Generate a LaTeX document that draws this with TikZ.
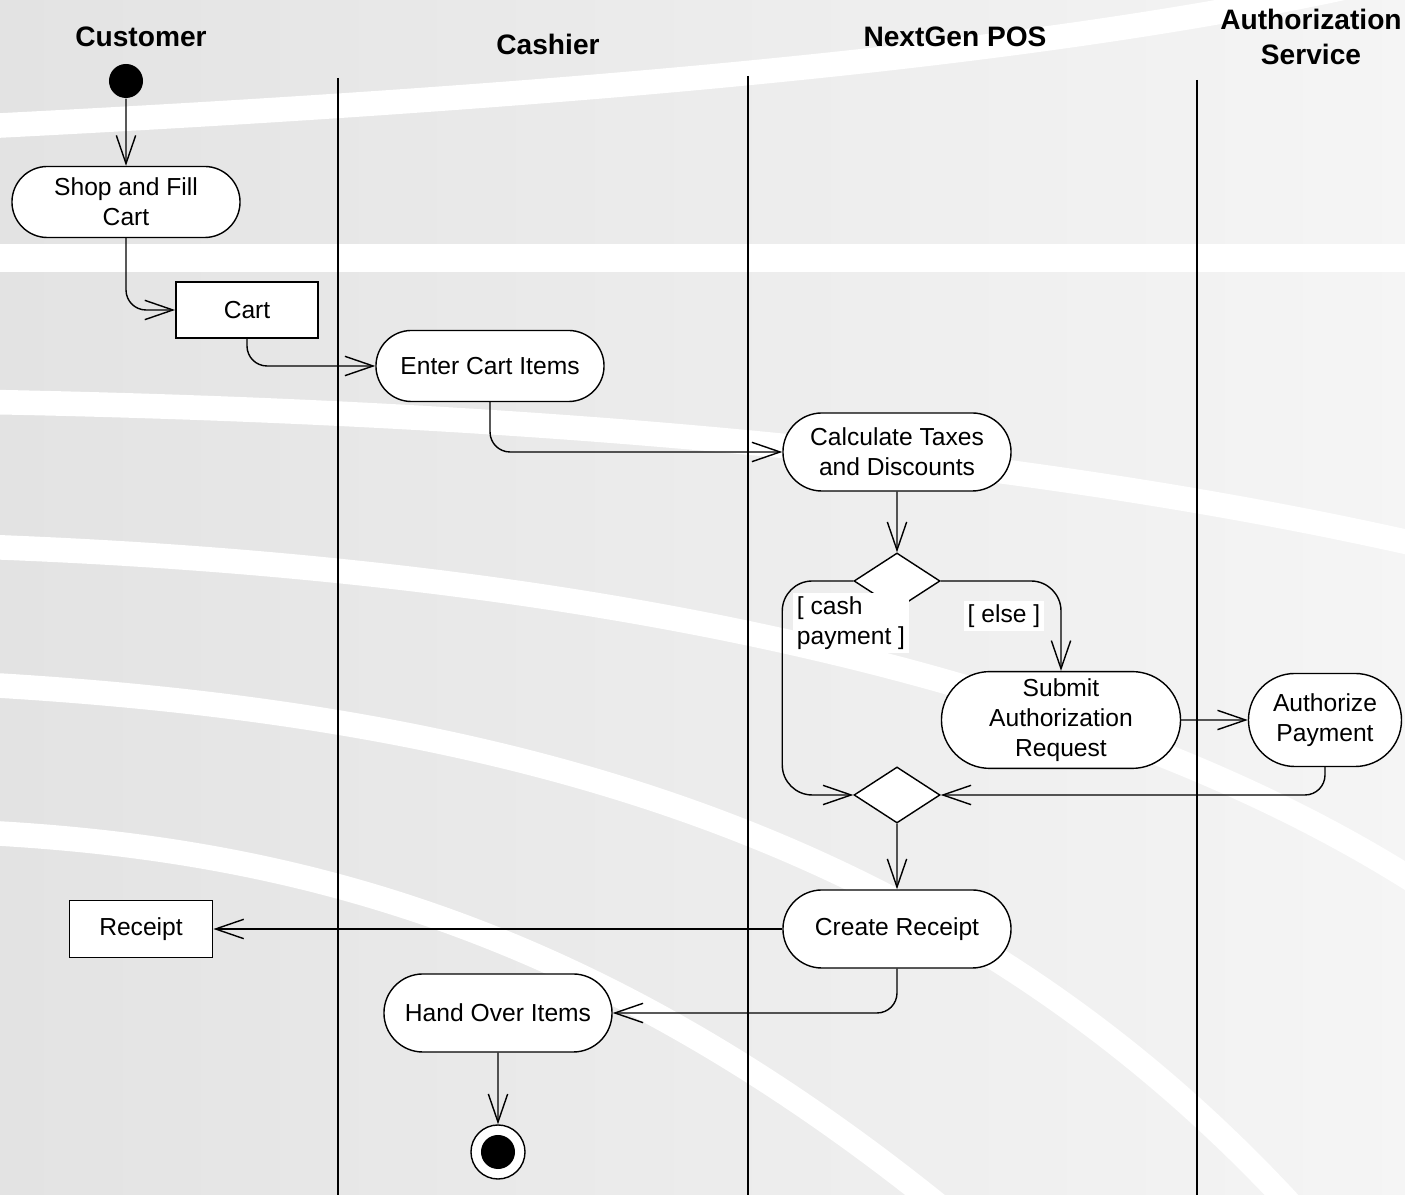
\documentclass[tikz,border=0pt]{standalone}
\usepackage{fontspec}
\setmainfont{Liberation Sans}
\usepackage{tikz}
\usetikzlibrary{arrows.meta,positioning,calc,shapes.geometric,shapes.misc}
\tikzset{act/.style={draw=black,fill=white,rounded rectangle,align=center,inner sep=2pt}}
\tikzset{obj/.style={draw=black,fill=white,rectangle,line width=0.5pt,minimum width=1.42cm,minimum height=0.56cm}}
\tikzset{choice/.style={draw=black,fill=white,diamond,aspect=1.54,inner sep=0pt,minimum width=0.86cm,minimum height=0.56cm}}
\tikzset{head/.style={font=\bfseries\fontsize{8}{9.7}\selectfont,align=center}}
\tikzset{lane/.style={-,line width=0.75pt}}
\tikzset{swoosh/.style={-,draw=white,line width=7pt}}
\tikzset{downover/.style={rounded corners=0.2cm,to path={|- (\tikztotarget)}}}
\tikzset{overdown/.style={rounded corners=0.3cm,to path={-| (\tikztotarget)}}}

\begin{document}
\begin{tikzpicture}[->, >={Straight Barb[length=8pt,width=5.5pt]}, x=0.01cm, y=-0.01cm, line width=0.4pt, font=\fontsize{7}{8.5}\selectfont]
        \useasboundingbox (0,0) rectangle (1405,1195);
        % background
        \fill[-,left color=black!11,right color=black!4] (0,0) rectangle (1405,1195);
        \begin{scope}
        \clip (0,0) rectangle (1405,1195);
        \fill[-,white] (0,244) rectangle (1405,272);
        \draw[swoosh] (-10,126) .. controls (600,95) and (1100,50) .. (1420,-30);
        \draw[swoosh] (-10,402) .. controls (500,412) and (1000,450) .. (1420,545);
        \draw[swoosh] (-10,547) .. controls (600,570) and (1100,680) .. (1420,885);
        \draw[swoosh] (-10,685) .. controls (500,715) and (950,830) .. (1300,1215);
        \draw[swoosh] (-10,833) .. controls (300,850) and (600,930) .. (950,1215);
        \end{scope}
        % swimlanes
        \node[head] (hcust) at (141,37) {Customer};
        \node[head] (hcash) at (548,44) {Cashier};
        \node[head] (hpos) at (955,37) {NextGen POS};
        \node[head] (hauth) at (1311,37) {Authorization\\Service};
        \draw[lane] (338,78) -- (338,1195);
        \draw[lane] (748,76) -- (748,1195);
        \draw[lane] (1197,80) -- (1197,1195);
        % nodes
        \node[circle,fill=black,minimum size=0.34cm,inner sep=0pt] (start) at (126,81) {};
        \node[act,minimum width=2.42cm,minimum height=0.71cm] (shop) at (126,202) {Shop and Fill\\Cart};
        \node[obj] (cart) at (247,310) {Cart};
        \node[act,minimum width=2.42cm,minimum height=0.71cm] (enter) at (490,366) {Enter Cart Items};
        \node[act,minimum width=2.42cm,minimum height=0.78cm] (calc) at (897,452) {Calculate Taxes\\and Discounts};
        \node[choice] (dec) at (897,581) {};
        \node[act,minimum width=2.53cm,minimum height=0.93cm] (submit) at (1061,720) {Submit\\Authorization\\Request};
        \node[act,minimum width=1.67cm,minimum height=0.93cm] (auth) at (1325,720) {Authorize\\Payment};
        \node[choice] (merge) at (897,795) {};
        \node[act,minimum width=2.42cm,minimum height=0.78cm] (create) at (897,929) {Create Receipt};
        \node[obj,minimum width=1.43cm,minimum height=0.57cm] (receipt) at (141,929) {Receipt};
        \node[act,minimum width=2.42cm,minimum height=0.78cm] (hand) at (498,1013) {Hand Over Items};
        \node[circle,draw=black,fill=white,minimum size=0.54cm,inner sep=0pt] (stop) at (498,1152) {};
        \node[circle,fill=black,minimum size=0.34cm,inner sep=0pt] (stopdot) at (stop) {};
        % flows
        \path (start) edge (shop);
        \path (shop) edge[downover] (cart);
        \path (cart) edge[downover] (enter);
        \path (enter) edge[downover] (calc);
        \path (calc) edge (dec);
        \draw[rounded corners=0.3cm] (dec.west) -- ++(-71,0) |- (merge.west);
        \path (dec) edge[overdown] (submit);
        \path (submit) edge (auth);
        \path (auth) edge[downover] (merge);
        \path (merge) edge (create);
        \path (create) edge (receipt);
        \path (create) edge[downover] (hand);
        \path (hand) edge (stop);
        % guards
        \node[fill=white,align=left,inner sep=1pt] (cashlbl) at (851,623) {[ cash\\payment ]};
        \node[fill=white,inner sep=1pt] (elselbl) at (1004,616) {[ else ]};
        \end{tikzpicture}
\end{document}
